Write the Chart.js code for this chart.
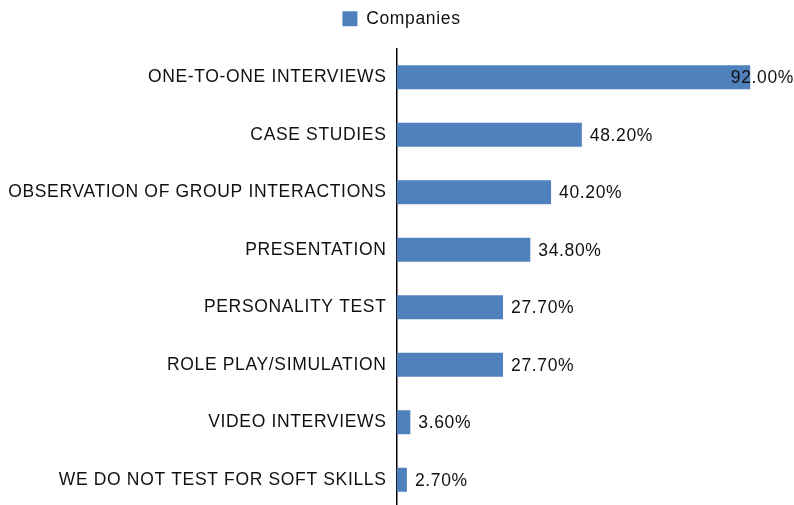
<!DOCTYPE html>
<html><head><meta charset="utf-8">
<script src="https://cdn.jsdelivr.net/npm/chart.js@4/dist/chart.umd.min.js"></script>
<style>html,body{margin:0;padding:0;overflow:hidden;background:#fff}#wrap{width:794px;height:529px;position:relative}</style>
</head><body><div id="wrap"><canvas id="c"></canvas></div>
<script>
const categories = ["ONE-TO-ONE INTERVIEWS","CASE STUDIES","OBSERVATION OF GROUP INTERACTIONS","PRESENTATION","PERSONALITY TEST","ROLE PLAY/SIMULATION","VIDEO INTERVIEWS","WE DO NOT TEST FOR SOFT SKILLS"];
const companies = [92.0, 48.2, 40.2, 34.8, 27.7, 27.7, 3.6, 2.7];
const seriesName = "Companies";
const FONT = "'Liberation Sans', Arial, sans-serif";
const FS = 17.5;
const LS = '0.65px';

const spacing = {
  id: 'spacing',
  beforeInit(chart) {
    const orig = chart.legend.fit;
    chart.legend.fit = function() { orig.call(this); this.height += 11; };
  },
  beforeUpdate(chart) { chart.ctx.letterSpacing = LS; },
  beforeLayout(chart) { chart.ctx.letterSpacing = LS; },
  afterLayout(chart) { chart.legend.left += 11; chart.legend.right += 11; },
  beforeDraw(chart) { chart.ctx.letterSpacing = LS; }
};

const valueLabels = {
  id: 'valueLabels',
  afterDatasetsDraw(chart) {
    const ctx = chart.ctx;
    const meta = chart.getDatasetMeta(0);
    ctx.save();
    ctx.letterSpacing = LS;
    ctx.font = FS + "px " + FONT;
    ctx.fillStyle = "#111";
    ctx.textBaseline = "middle";
    meta.data.forEach((bar, i) => {
      const txt = companies[i].toFixed(2) + "%";
      const w = ctx.measureText(txt).width;
      let x = bar.x + 8;
      if (x + w > chart.width) x = chart.width - w;
      ctx.fillText(txt, x, bar.y + 1);
    });
    ctx.restore();
  }
};

new Chart(document.getElementById('c'), {
  type: 'bar',
  data: { labels: categories, datasets: [{ label: seriesName, data: companies, backgroundColor: '#4f81bd', categoryPercentage: 0.83, barPercentage: 0.5 }] },
  options: {
    indexAxis: 'y', responsive: true, maintainAspectRatio: false, animation: false,
    layout: { padding: { right: 13, top: 0, bottom: 0, left: 0 } },
    plugins: {
      legend: { position: 'top', labels: { boxWidth: 15, boxHeight: 15, color: '#111', font: { family: FONT, size: FS }, padding: 10 } },
      tooltip: { enabled: false }
    },
    scales: {
      x: { min: 0, max: 100, display: false },
      y: { grid: { display: false, drawTicks: false }, border: { display: true, color: '#000', width: 1.5 },
           ticks: { color: '#111', font: { family: FONT, size: FS }, padding: 10 },
           afterFit(s) { s.width += 6; } }
    }
  },
  plugins: [spacing, valueLabels]
});
</script></body></html>
